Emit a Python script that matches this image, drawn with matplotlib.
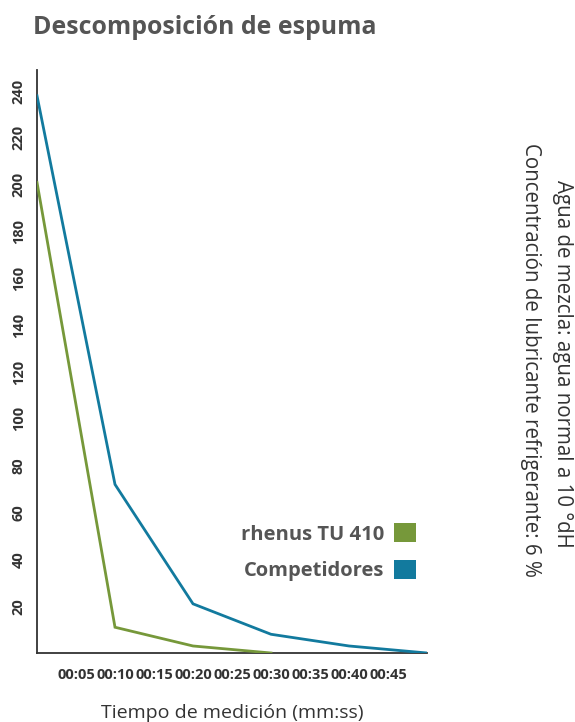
import numpy as np
import matplotlib
matplotlib.use('Agg')
import matplotlib.pyplot as plt
from matplotlib.patches import Patch

plt.rcParams['font.family'] = ['Open Sans', 'DejaVu Sans']

# Data (seconds, foam height)
tiempo = [0, 10, 20, 30, 40, 50]
rhenus = [201, 11, 3, 0, None, None]
competidores = [238, 72, 21, 8, 3, 0]

x_ticks = [5, 10, 15, 20, 25, 30, 35, 40, 45]
x_labels = ['00:05', '00:10', '00:15', '00:20', '00:25', '00:30', '00:35', '00:40', '00:45']
y_ticks = [20, 40, 60, 80, 100, 120, 140, 160, 180, 200, 220, 240]

green = '#76983a'
blue = '#127a9e'
grey = '#555555'
dark = '#333333'

fig = plt.figure(figsize=(5.75, 7.22), dpi=100)
ax = fig.add_axes([37 / 575, 1 - 653 / 722, 390 / 575, 583 / 722])

t_r = [t for t, v in zip(tiempo, rhenus) if v is not None]
v_r = [v for v in rhenus if v is not None]
ax.plot(tiempo, competidores, color=blue, lw=2.0, solid_joinstyle='miter', zorder=3)
ax.plot(t_r, v_r, color=green, lw=2.0, solid_joinstyle='miter', zorder=3)

ax.set_xlim(0, 50)
ax.set_ylim(0, 249)
for s in ['top', 'right']:
  ax.spines[s].set_visible(False)
for s in ['left', 'bottom']:
  ax.spines[s].set_color(dark)
  ax.spines[s].set_linewidth(1.3)

ax.set_xticks(x_ticks)
ax.set_xticklabels(x_labels, fontsize=10.5, fontweight='bold', color=dark)
ax.set_yticks(y_ticks)
ax.set_yticklabels([str(v) for v in y_ticks], fontsize=10.5, fontweight='bold',
                   color=dark, rotation=90, va='center')
ax.tick_params(axis='both', length=0)
ax.tick_params(axis='x', pad=11)
ax.tick_params(axis='y', pad=8)

fig.text(33 / 575, 1 - 27 / 722, 'Descomposición de espuma', fontsize=17.9,
         fontweight='bold', color=grey, va='center', ha='left')
fig.text(232 / 575, 1 - 713 / 722, 'Tiempo de medición (mm:ss)', fontsize=14,
         color=dark, ha='center', va='center')
fig.text(563 / 575, 1 - 364 / 722, 'Agua de mezcla: agua normal a 10 °dH',
         fontsize=14.8, color=dark, rotation=-90, ha='center', va='center')
fig.text(530 / 575, 1 - 360 / 722,
         'Concentración de lubricante refrigerante: 6 %', fontsize=14.8,
         color=dark, rotation=-90, ha='center', va='center')

handles = [Patch(facecolor=green, edgecolor='none'),
           Patch(facecolor=blue, edgecolor='none')]
leg = fig.legend(handles, ['rhenus TU 410', 'Competidores'],
                 loc='upper right', bbox_to_anchor=(416 / 575, 1 - 523 / 722),
                 frameon=False, markerfirst=False, handlelength=1.1,
                 handleheight=1.1, handletextpad=0.5, labelspacing=0.75,
                 borderpad=0, borderaxespad=0,
                 prop={'size': 14.5, 'weight': 'bold'})
for txt in leg.get_texts():
  txt.set_color(grey)

plt.savefig('out.png', dpi=100)
